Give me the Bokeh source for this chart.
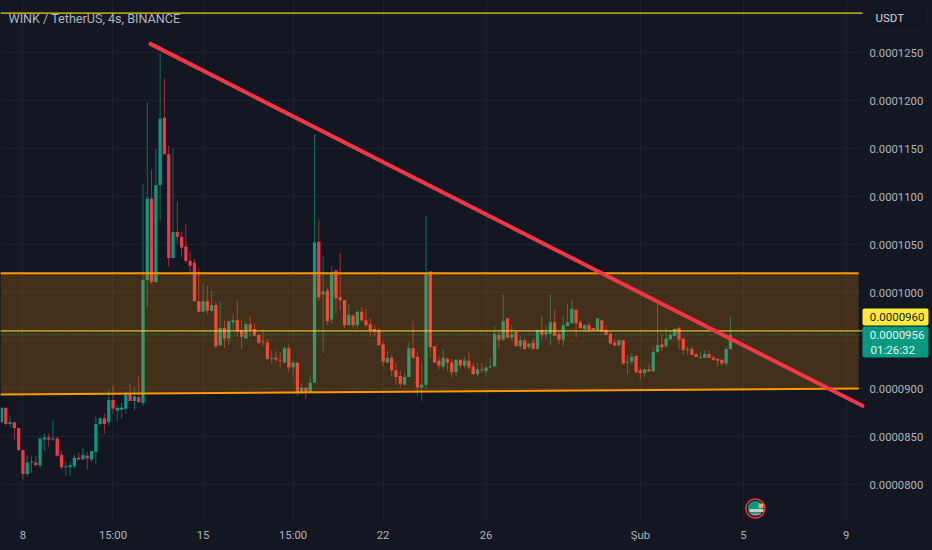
import numpy as np
from bokeh.plotting import figure, ColumnDataSource
from bokeh.models import Range1d, FixedTicker, PrintfTickFormatter, Label, BoxAnnotation
from bokeh.embed import file_html
from bokeh.resources import INLINE

# prices in units of 1e-7 USDT, one 4-hour bar each
opens = [865,880,863,865,859,836,811,823,823,820,847,849,847,848,831,818,818,819,828,826,830,826,834,863,869,865,888,877,878,879,894,887,891,
885,1013,1098,1011,1112,1182,1144,1036,1063,1058,1048,1033,1031,991,980,991,981,987,945,963,952,969,971,961,952,967,962,956,949,948,931,932,930,927,942,922,927,
896,901,896,906,1053,998,1002,972,1023,995,992,966,976,966,980,971,967,962,961,946,927,932,919,913,904,912,942,933,901,904,1022,944,929,923,931,
927,917,930,924,929,923,915,920,918,922,923,956,951,973,953,959,944,950,943,948,941,961,956,957,969,957,951,965,968,982,969,962,966,963,960,
971,961,957,948,945,950,927,928,934,919,916,920,918,938,946,944,951,955,963,952,940,941,936,932,932,936,932,931,930,926,941]
closes = [880,863,865,859,836,811,823,824,820,848,849,847,848,830,818,819,820,828,826,831,827,835,863,869,863,888,879,880,880,894,887,892,886,
1013,1098,1011,1112,1181,1144,1036,1063,1058,1047,1033,1028,991,980,991,981,987,944,963,952,970,971,960,954,967,961,955,948,948,931,932,930,929,942,922,927,896,
901,896,906,1052,995,1001,970,1019,994,992,966,977,966,980,971,966,961,959,945,928,932,919,912,905,912,942,932,901,904,1020,943,927,924,932,927,
917,930,924,929,922,915,920,919,922,923,957,951,970,953,957,944,950,941,947,941,961,956,959,969,955,951,966,969,983,968,963,966,961,961,973,
959,956,947,945,950,926,928,933,917,916,920,918,938,945,943,952,956,962,951,940,941,935,933,933,936,932,930,929,926,941,956]
highs = [880,880,871,865,859,836,830,830,830,848,853,853,867,850,835,824,824,831,833,838,834,835,871,870,874,899,903,883,885,897,905,902,914,
1113,1198,1128,1150,1249,1223,1153,1150,1095,1064,1072,1043,1035,1026,1009,1007,1002,990,990,971,970,978,992,971,970,975,968,957,962,952,940,939,938,944,946,929,927,
906,901,913,1165,1076,1038,1005,1028,1023,1041,992,988,978,981,985,983,973,966,963,949,939,935,927,919,917,948,970,938,927,1080,1022,944,934,941,932,
931,930,930,933,938,927,927,926,923,932,965,959,998,973,966,960,955,952,948,952,961,976,966,998,982,960,976,988,993,982,971,967,969,963,973,
971,966,959,952,952,950,935,937,934,922,921,926,944,988,957,963,961,963,965,953,944,944,938,938,940,940,934,931,930,944,976]
lows = [864,861,860,846,835,805,808,812,819,817,835,839,846,829,816,809,809,817,826,826,816,823,821,861,853,861,874,866,869,874,887,877,885,
882,985,1009,1010,1075,1144,1027,1036,1051,1037,1031,1019,991,980,980,977,980,942,944,942,945,962,954,941,952,954,955,946,944,930,926,927,922,927,917,913,892,
894,889,896,906,991,937,966,968,978,982,963,966,963,962,969,964,955,954,945,923,927,913,904,901,904,912,931,892,887,900,932,927,920,920,918,
912,913,921,921,919,914,912,916,912,921,923,942,950,952,950,944,941,941,941,941,941,951,951,945,955,946,944,965,968,953,962,960,959,960,960,
959,955,946,944,944,925,915,925,916,910,912,917,917,937,939,943,951,954,941,935,935,935,933,931,932,932,929,923,924,922,941]
bars = list(range(len(opens)))

time_ticks = [5, 26, 47, 68, 89, 113, 149, 173, 197]
time_labels = ["8", "15:00", "15", "15:00", "22", "26", "Şub", "5", "9"]
price_ticks = [800, 850, 900, 950, 1000, 1050, 1100, 1150, 1200, 1250]

range_top = 1020
range_low_x = [-0.3, 199.9]
range_low_y = [893.7, 900]
mid_level = 960
top_level = 1291
last_price = 956
trend_x = [34.75, 200.8]
trend_y = [1259, 882]

UP, DOWN = "#089981", "#f23645"
BG, GRID, TXT = "#131722", "#1f232e", "#b2b5be"
FONT = "Roboto"
K = 1e-7
H_FRAME = 521
PANE_END = 200.79

def sy(py):
    return H_FRAME - py

o, c, h, l = [np.array(a, dtype=float) * K for a in (opens, closes, highs, lows)]
up = c >= o
src = ColumnDataSource(dict(x=bars, top=np.maximum(o, c), bottom=np.minimum(o, c), high=h, low=l,
                            color=[UP if u else DOWN for u in up]))

p = figure(width=932, height=550, output_backend="svg", toolbar_location=None,
           x_range=Range1d(-0.233, 217.12), y_range=Range1d(761.5 * K, 1304.17 * K),
           y_axis_location="right", min_border_left=0, min_border_top=0,
           min_border_right=0, min_border_bottom=29,
           background_fill_color=BG, border_fill_color=BG, outline_line_color=None)
p.styles = {"position": "fixed", "left": "0", "top": "0", "background-color": BG}

p.xaxis.ticker = FixedTicker(ticks=time_ticks)
p.xaxis.major_label_overrides = dict(zip(time_ticks, time_labels))
p.yaxis.ticker = FixedTicker(ticks=[t * K for t in price_ticks])
p.yaxis.formatter = PrintfTickFormatter(format="%.7f")
p.yaxis.fixed_location = PANE_END
for ax in (p.xaxis[0], p.yaxis[0]):
    ax.axis_line_color = None
    ax.major_tick_line_color = None
    ax.minor_tick_line_color = None
    ax.major_label_text_color = TXT
    ax.major_label_text_font = FONT
    ax.major_label_text_font_size = "11.3px"
p.yaxis.major_label_standoff = 1
p.xaxis.major_label_standoff = 1
p.grid.grid_line_color = GRID

# price-scale strip: hides the grid right of the pane
p.add_layout(BoxAnnotation(left=PANE_END, fill_color=BG, fill_alpha=1, line_color=None, level="underlay"))

p.segment("x", "low", "x", "high", source=src, line_color="color", line_width=1, line_alpha=0.65)
p.vbar("x", 0.76, "top", "bottom", source=src, fill_color="color", line_color=None)

# range box over the candles
x0, x1 = range_low_x
band_x = [x0, x1, x1, x0]
band_y = [range_top * K, range_top * K, range_low_y[1] * K, range_low_y[0] * K]
p.patch(band_x, band_y, fill_color="#ff9800", fill_alpha=0.2, line_color=None)
p.line([x0, x1], [range_top * K] * 2, line_color="#ff9800", line_width=2)
p.line(range_low_x, [v * K for v in range_low_y], line_color="#ff9800", line_width=2)

p.line([-0.3, PANE_END], [last_price * K] * 2, line_color=UP, line_width=1, line_dash="1 2")
p.line([-0.3, PANE_END], [mid_level * K] * 2, line_color="#f5dc20", line_width=1.2, line_alpha=0.85)
p.line([-0.3, PANE_END], [top_level * K] * 2, line_color="#f5dc20", line_width=1.2, line_alpha=0.95)
p.line(trend_x, [v * K for v in trend_y], line_color=DOWN, line_width=4, line_cap="round")

def box(x0, x1, y0, y1, fill, line=None, radius=0, alpha=1.0):
    b = BoxAnnotation(left=x0, right=x1, top=sy(y0), bottom=sy(y1),
                      left_units="screen", right_units="screen", top_units="screen", bottom_units="screen",
                      fill_color=fill, fill_alpha=alpha, line_color=line, border_radius=radius, level="overlay")
    p.add_layout(b)

def text(x, y, s, color=TXT, size="11.5px", align="left"):
    p.add_layout(Label(x=x, y=sy(y), x_units="screen", y_units="screen", text=s, text_color=color,
                       text_font=FONT, text_font_size=size, text_align=align, text_baseline="middle",
                       level="overlay"))

box(866, 927, 4.5, 30, BG, line="#2a2e39", radius=5)
box(862, 928, 308, 325, "#ffeb3b", radius=2)
box(862, 928, 326, 357, UP, radius=2)
text(8, 17.5, "WINK / TetherUS, 4s, BINANCE", size="12.6px")
text(875, 17.5, "USDT", color="#d1d4dc", size="11.5px")
text(924, 316.5, "0.0000960", color="#131722", align="right")
text(924, 334.5, "0.0000956", color="#e8f5f2", align="right")
text(870, 349.5, "01:26:32", color="#e8f5f2")

# small flag badge on the time axis edge
p.scatter([175.8], [775 * K], size=19, marker="circle", fill_color=BG, line_color=DOWN, line_width=1.5)
p.scatter([175.8], [775 * K], size=15, marker="circle", fill_color=UP, line_color=None)
box(749, 763, 508.5, 511.5, "#c5ccce")
box(758, 763, 503, 507.5, "#e2a765")
box(751, 760, 513, 514.5, "#e8757e")

open("out.html", "w").write(file_html(p, INLINE))
